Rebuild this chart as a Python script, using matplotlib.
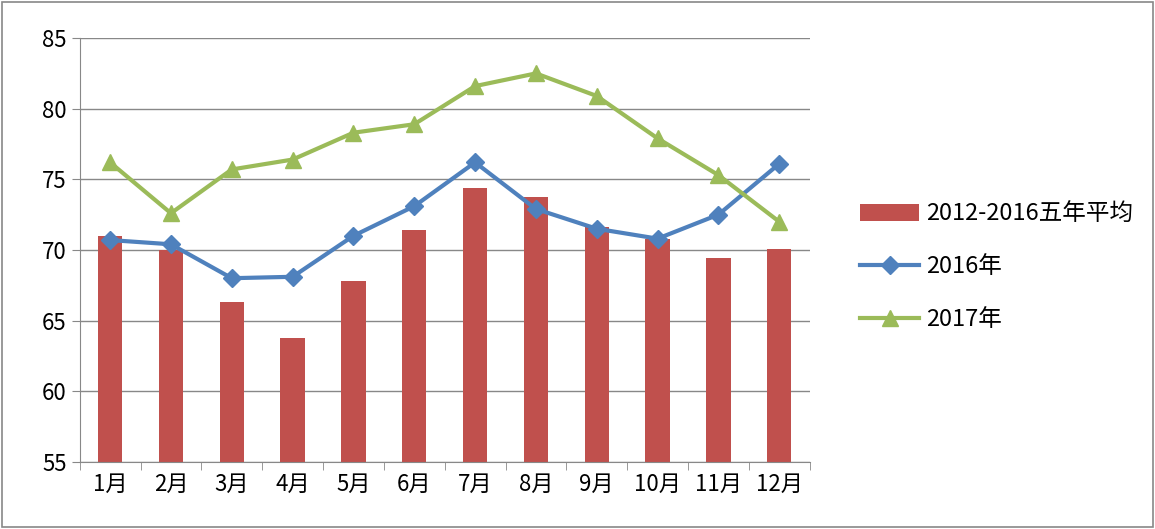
import matplotlib.pyplot as plt
from matplotlib.patches import Rectangle

plt.rcParams['font.family'] = ['Noto Sans CJK SC', 'DejaVu Sans']

months = ['1月', '2月', '3月', '4月', '5月', '6月', '7月', '8月', '9月', '10月', '11月', '12月']
avg_5yr = [71.0, 70.0, 66.3, 63.8, 67.8, 71.4, 74.4, 73.75, 71.6, 70.8, 69.4, 70.1]
y2016 = [70.7, 70.4, 68.0, 68.1, 71.0, 73.1, 76.2, 72.9, 71.5, 70.8, 72.5, 76.1]
y2017 = [76.2, 72.6, 75.7, 76.4, 78.3, 78.9, 81.6, 82.5, 80.9, 77.9, 75.3, 72.0]

fig = plt.figure(figsize=(11.55, 5.29), dpi=100)
fig.patches.append(Rectangle((0.002, 0.004), 0.996, 0.992, transform=fig.transFigure,
                             fill=False, edgecolor='#888888', linewidth=1.2))
ax = fig.add_axes([0.069, 0.127, 0.632, 0.801])

x = range(len(months))
b = ax.bar(x, avg_5yr, width=0.4, color='#C0504D', label='2012-2016五年平均', zorder=2)
l1, = ax.plot(x, y2016, color='#4F81BD', marker='D', markersize=9, linewidth=3, label='2016年', zorder=3)
l2, = ax.plot(x, y2017, color='#9BBB59', marker='^', markersize=12, linewidth=3, label='2017年', zorder=3)

ax.set_ylim(55, 85)
ax.set_yticks(range(55, 86, 5))
ax.set_xlim(-0.5, 11.5)
ax.set_xticks(x)
ax.set_xticklabels(months)
ax.set_xticks([i - 0.5 for i in range(13)], minor=True)
ax.tick_params(axis='x', which='major', length=0, labelsize=16, pad=8)
ax.tick_params(axis='x', which='minor', length=6, color='#888888')
ax.tick_params(axis='y', labelsize=16, length=6, color='#888888')
ax.grid(axis='y', color='#888888', linewidth=1, zorder=0)
for s in ['top', 'right']:
    ax.spines[s].set_visible(False)
ax.spines['left'].set_color('#888888')
ax.spines['bottom'].set_color('#888888')

ax.legend([b, l1, l2], [b.get_label(), l1.get_label(), l2.get_label()],
          loc='center left', bbox_to_anchor=(1.04, 0.46), frameon=False, fontsize=17,
          handlelength=2.5, labelspacing=1.25, handletextpad=0.3)

fig.savefig('out.png')
